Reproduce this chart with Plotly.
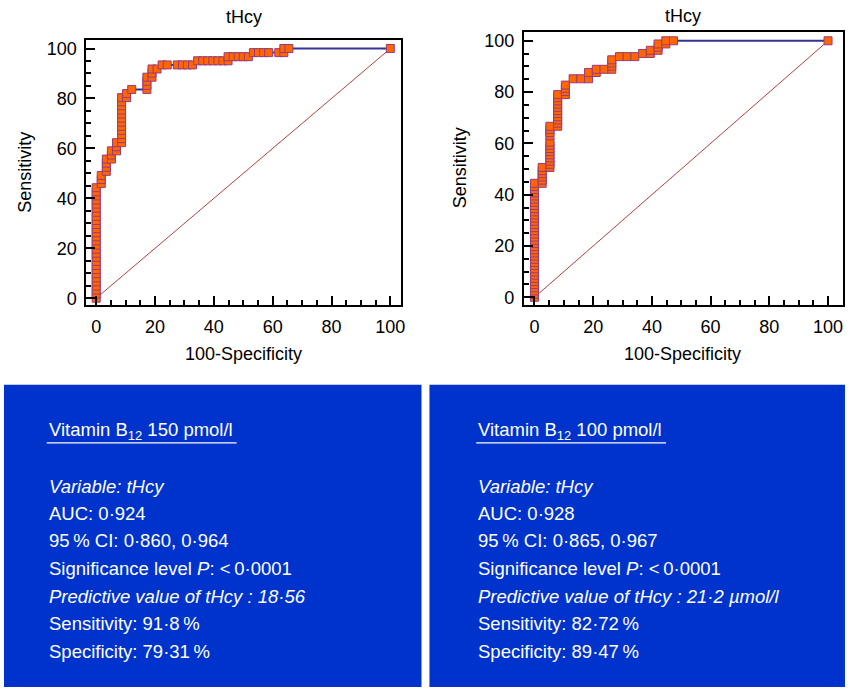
import plotly.graph_objects as go

# ---------------- data ----------------
left_title = "tHcy"
right_title = "tHcy"

left_x = [0]*28 + [1.72]*3 + [3.45]*4 + [5.17]*3 + [6.90]*3 + [8.62]*12 + [10.34]*2 + [12.07] + [17.24]*4 + [18.97]*3 + \
    [20.69, 22.41, 24.14, 27.59, 29.31, 31.03, 32.76,
     34.48, 36.21, 37.93, 39.66, 41.38, 43.10,
     44.83, 44.83, 46.55, 48.28, 50.00, 51.72,
     53.45, 55.17, 56.90, 58.62, 62.07, 63.79, 63.79, 65.52, 100]
left_y = [0, 1.64, 3.28, 4.92, 6.56, 8.20, 9.84, 11.48, 13.11, 14.75, 16.39, 18.03, 19.67, 21.31,
          22.95, 24.59, 26.23, 27.87, 29.51, 31.15, 32.79, 34.43, 36.07, 37.70, 39.34, 40.98, 42.62, 44.26,
          45.90, 47.54, 49.18,
          50.82, 52.46, 54.10, 55.74,
          55.74, 57.38, 59.02,
          59.02, 60.66, 62.30,
          62.30, 63.93, 65.57, 67.21, 68.85, 70.49, 72.13, 73.77, 75.41, 77.05, 78.69, 80.33,
          80.33, 81.97,
          83.61,
          83.61, 85.25, 86.89, 88.52,
          88.52, 90.16, 91.80,
          91.80, 93.44, 93.44, 93.44, 93.44, 93.44, 93.44,
          95.08, 95.08, 95.08, 95.08, 95.08, 95.08,
          95.08, 96.72, 96.72, 96.72, 96.72, 96.72,
          98.36, 98.36, 98.36, 98.36, 98.36, 98.36, 100, 100, 100]

right_x = [0]*37 + [2.63]*6 + [5.26]*13 + [7.89]*11 + [10.53]*4 + \
    [13.16, 15.79, 18.42, 18.42, 21.05, 21.05, 23.68,
     26.32, 26.32, 26.32, 26.32, 28.95, 31.58, 34.21, 36.84,
     39.47, 39.47, 42.11, 42.11, 42.11, 44.74, 44.74, 47.37, 100]
right_y = [0, 1.23, 2.47, 3.70, 4.94, 6.17, 7.41, 8.64, 9.88, 11.11, 12.35, 13.58, 14.81, 16.05,
           17.28, 18.52, 19.75, 20.99, 22.22, 23.46, 24.69, 25.93, 27.16, 28.40, 29.63, 30.86, 32.10,
           33.33, 34.57, 35.80, 37.04, 38.27, 39.51, 40.74, 41.98, 43.21, 44.44,
           44.44, 45.68, 46.91, 48.15, 49.38, 50.62,
           50.62, 51.85, 53.09, 54.32, 55.56, 56.79, 58.02, 59.26, 60.49, 62.96, 64.20, 65.43, 66.67,
           66.67, 67.90, 69.14, 70.37, 71.60, 72.84, 74.07, 75.31, 76.54, 77.78, 79.01,
           79.01, 80.25, 81.48, 82.72,
           85.19, 85.19, 85.19, 87.65, 87.65, 88.89, 88.89,
           88.89, 90.12, 91.36, 92.59, 93.83, 93.83, 93.83, 95.06,
           95.06, 96.30, 96.30, 97.53, 98.77, 98.77, 100, 100, 100]

diag = [0, 100]
tick_vals = [0, 20, 40, 60, 80, 100]
x_label = "100-Specificity"
y_label = "Sensitivity"

left_box = [
    "Vitamin B<sub>12</sub> 150 pmol/l",
    "<i>Variable: tHcy</i>",
    "AUC: 0·924",
    "95\u2009% CI: 0·860, 0·964",
    "Significance level <i>P</i>: <\u20090·0001",
    "<i>Predictive value of tHcy : 18·56</i>",
    "Sensitivity: 91·8\u2009%",
    "Specificity: 79·31\u2009%",
]
right_box = [
    "Vitamin B<sub>12</sub> 100 pmol/l",
    "<i>Variable: tHcy</i>",
    "AUC: 0·928",
    "95\u2009% CI: 0·865, 0·967",
    "Significance level <i>P</i>: <\u20090·0001",
    "<i>Predictive value of tHcy : 21·2 µmol/l</i>",
    "Sensitivity: 82·72\u2009%",
    "Specificity: 89·47\u2009%",
]

# ---------------- layout helpers ----------------
W, H = 850, 693
FONT = "Liberation Sans, Arial, Helvetica, sans-serif"

def px(x):
    return x / W

def py(y):
    return 1 - y / H

fig = go.Figure()

marker = dict(symbol="square", size=8, color="#FF6600", line=dict(color="#9B3A7A", width=1))
for xs, ys, xa, ya in [(left_x, left_y, "x", "y"), (right_x, right_y, "x2", "y2")]:
    fig.add_trace(go.Scatter(x=diag, y=diag, mode="lines", line=dict(color="#A01010", width=0.8),
                             xaxis=xa, yaxis=ya, hoverinfo="skip", showlegend=False))
    fig.add_trace(go.Scatter(x=xs, y=ys, mode="lines+markers", line=dict(color="#333399", width=2),
                             marker=marker, xaxis=xa, yaxis=ya, showlegend=False))

def axis(domain, rng, anchor):
    return dict(domain=domain, range=rng, showgrid=False, zeroline=False, anchor=anchor,
                showline=True, mirror=True, linecolor="black", linewidth=2,
                ticks="inside", ticklen=9, tickwidth=1.5, tickcolor="black",
                tickvals=tick_vals, ticklabelstandoff=4,
                minor=dict(dtick=5, ticks="inside", ticklen=5, tickwidth=1.5, tickcolor="black"),
                tickfont=dict(family=FONT, size=18, color="black"))

fig.update_layout(
    width=W, height=H, margin=dict(l=0, r=0, t=0, b=0),
    paper_bgcolor="white", plot_bgcolor="white", showlegend=False,
    xaxis=axis([px(87), px(403)], [-3.3, 103.5], "y"),
    yaxis=axis([py(306), py(39)], [-2.8, 103.5], "x"),
    xaxis2=axis([px(527), px(848)], [-3.6, 105.1], "y2"),
    yaxis2=axis([py(306), py(31)], [-3.1, 103.5], "x2"),
)

ann = []
def text(x, y, s, size=18, xanchor="center", color="black", angle=0):
    ann.append(dict(x=px(x), y=py(y), xref="paper", yref="paper", text=s, showarrow=False,
                    xanchor=xanchor, yanchor="middle", textangle=angle,
                    font=dict(family=FONT, size=size, color=color)))

text(245, 16, left_title)
text(687, 15, right_title)
text(245, 355, x_label)
text(687, 355, x_label)
text(25, 172, y_label, angle=-90)
text(463, 168, y_label, angle=-90)

shapes = []
for (x0, x1, x_text, lines) in [(4, 424, 47, left_box), (432, 850, 479, right_box)]:
    shapes.append(dict(type="rect", xref="paper", yref="paper", x0=px(x0), x1=px(x1), y0=py(690), y1=py(386),
                       fillcolor="#0033CC", line=dict(width=0), layer="below"))
    shapes.append(dict(type="line", xref="paper", yref="paper", x0=px(x_text), x1=px(x_text + 191),
                       y0=py(444.5), y1=py(444.5), line=dict(color="white", width=1.2)))
    ys = [432, 488, 515.5, 543, 571, 598.5, 626.5, 654]
    for s, yy in zip(lines, ys):
        text(x_text, yy, s, size=18.5, xanchor="left", color="white")

fig.update_layout(annotations=ann, shapes=shapes)
fig.write_html("out.html", config={"displayModeBar": False},
               post_script="document.body.style.margin='0';document.body.style.overflow='hidden';")
